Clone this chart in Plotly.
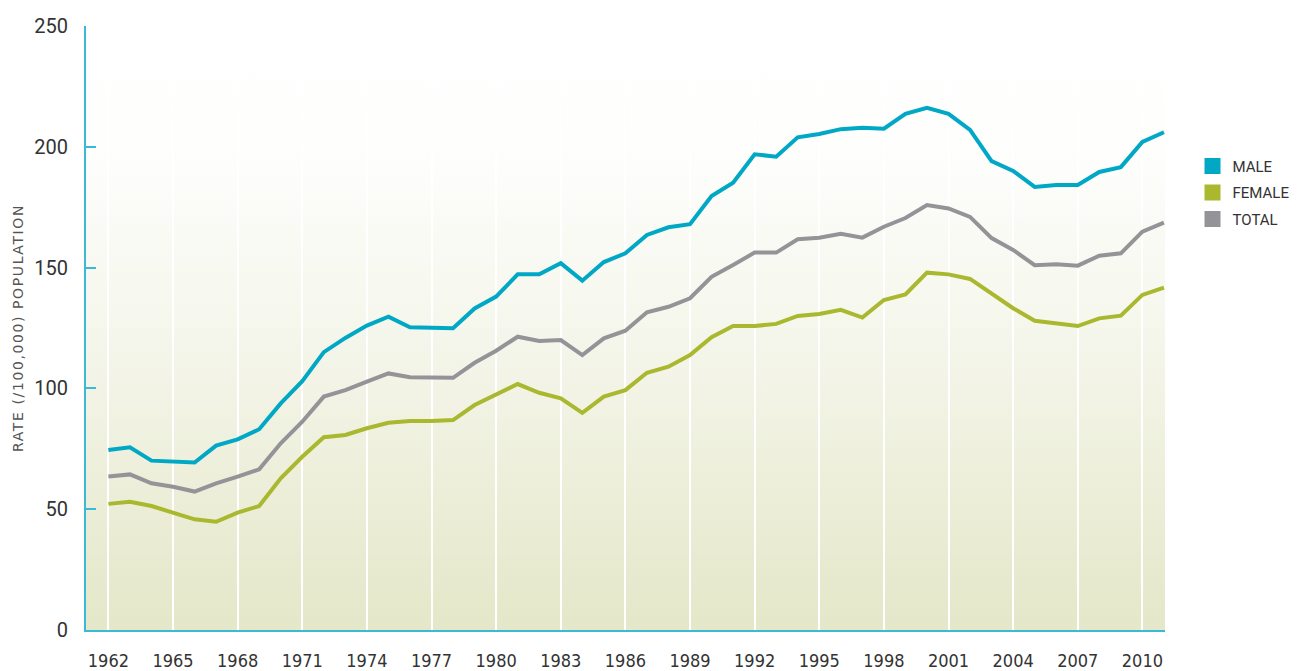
import base64
import plotly.graph_objects as go

years = list(range(1962, 2012))

male = [74.5, 75.6, 70.1, 69.9, 69.3, 76.3, 78.9, 83.1, 93.8, 103.0,
        115.0, 120.9, 126.0, 129.7, 125.3, 125.1, 124.9, 133.1, 138.0, 147.2,
        147.2, 151.8, 144.6, 152.3, 155.9, 163.5, 166.7, 168.0, 179.6, 185.1,
        196.9, 195.9, 203.9, 205.3, 207.3, 207.9, 207.5, 213.6, 216.1, 213.6,
        207.0, 194.1, 190.0, 183.4, 184.2, 184.2, 189.6, 191.6, 202.0, 206.0]

female = [52.2, 53.1, 51.3, 48.6, 45.8, 44.8, 48.6, 51.3, 62.8, 71.7,
          79.8, 80.7, 83.5, 85.8, 86.5, 86.5, 86.9, 93.1, 97.3, 101.8,
          98.2, 95.9, 89.9, 96.6, 99.3, 106.5, 109.0, 113.8, 121.2, 125.8,
          125.8, 126.7, 130.0, 130.8, 132.5, 129.3, 136.6, 138.9, 147.9, 147.2,
          145.3, 139.4, 133.2, 128.0, 126.9, 125.8, 129.0, 130.1, 138.7, 141.7]

total = [63.5, 64.4, 60.7, 59.3, 57.3, 60.7, 63.5, 66.5, 77.3, 86.2,
         96.6, 99.3, 102.8, 106.2, 104.6, 104.4, 104.4, 110.6, 115.6, 121.4,
         119.6, 120.0, 113.8, 120.7, 123.9, 131.5, 133.8, 137.3, 146.2, 151.1,
         156.2, 156.2, 161.7, 162.4, 164.0, 162.4, 166.9, 170.5, 175.9, 174.5,
         171.0, 162.2, 157.3, 151.0, 151.4, 150.8, 154.9, 155.9, 164.9, 168.6]

series_names = ["MALE", "FEMALE", "TOTAL"]
series_colors = ["#00a8c6", "#a9b82f", "#949498"]
series_values = [male, female, total]

x_tick_vals = list(range(1962, 2011, 3))
x_tick_text = [str(v) for v in x_tick_vals]
y_tick_vals = [0, 50, 100, 150, 200, 250]

axis_color = "#3cb9d6"
text_color = "#333333"

fig = go.Figure()

order = [2, 1, 0]
for i in order:
    fig.add_trace(go.Scatter(
        x=years, y=series_values[i], mode="lines",
        line=dict(color=series_colors[i], width=4),
        showlegend=False, hoverinfo="skip",
    ))

for i, name in enumerate(series_names):
    fig.add_trace(go.Scatter(
        x=[None], y=[None], mode="markers", name=name,
        marker=dict(symbol="square", size=16, color=series_colors[i]),
        legendgroup=name,
    ))

svg = (
    '<svg xmlns="http://www.w3.org/2000/svg" width="100" height="100" preserveAspectRatio="none">'
    '<defs><linearGradient id="g" x1="0" y1="0" x2="0" y2="1">'
    '<stop offset="0" stop-color="#ffffff"/>'
    '<stop offset="0.2" stop-color="#fefefd"/>'
    '<stop offset="0.55" stop-color="#f4f5e9"/>'
    '<stop offset="1" stop-color="#e4e7c8"/>'
    '</linearGradient></defs>'
    '<rect width="100" height="100" fill="url(#g)"/></svg>'
)
uri = "data:image/svg+xml;base64," + base64.b64encode(svg.encode()).decode()
fig.add_layout_image(dict(
    source=uri, xref="paper", yref="paper", x=0, y=1, sizex=1, sizey=1,
    xanchor="left", yanchor="top", sizing="stretch", layer="below",
))

fig.add_annotation(
    text='<span style="letter-spacing:1.6px">RATE (/100,000) POPULATION</span>',
    textangle=-90,
    xref="paper", yref="paper", x=0, y=0.5, xanchor="center", yanchor="middle",
    xshift=-68, showarrow=False,
    font=dict(family="DejaVu Sans", size=14, color="#555555"),
)

condensed_ticks = ['<span style="font-stretch:condensed">%s</span>' % t for t in x_tick_text]

# the page body has an 8px margin, so the figure is sized to fit the window
fig.update_layout(
    width=1293, height=663,
    margin=dict(l=78, r=136, t=18, b=41, autoexpand=False),
    paper_bgcolor="white", plot_bgcolor="rgba(0,0,0,0)",
    showlegend=True,
    legend=dict(
        x=1.0255, y=0.795, xanchor="left", yanchor="top",
        font=dict(family="Roboto", size=15, color=text_color),
        tracegroupgap=4, bgcolor="rgba(0,0,0,0)",
    ),
    xaxis=dict(
        range=[1960.96, 2011.05], tickmode="array",
        tickvals=x_tick_vals, ticktext=condensed_ticks,
        showgrid=True, gridcolor="white", gridwidth=1.5,
        showline=True, linecolor=axis_color, linewidth=2,
        ticks="", zeroline=False, ticklabelstandoff=13, automargin=False,
        tickfont=dict(family="DejaVu Sans", size=18, color=text_color),
    ),
    yaxis=dict(
        range=[0, 250], tickmode="array", tickvals=y_tick_vals,
        showgrid=False, zeroline=False, automargin=False,
        showline=True, linecolor=axis_color, linewidth=2,
        ticks="inside", ticklen=10, tickwidth=2, tickcolor=axis_color,
        ticklabelstandoff=12,
        tickfont=dict(family="Roboto", size=20, color=text_color),
    ),
)

fig.write_html("out.html")
